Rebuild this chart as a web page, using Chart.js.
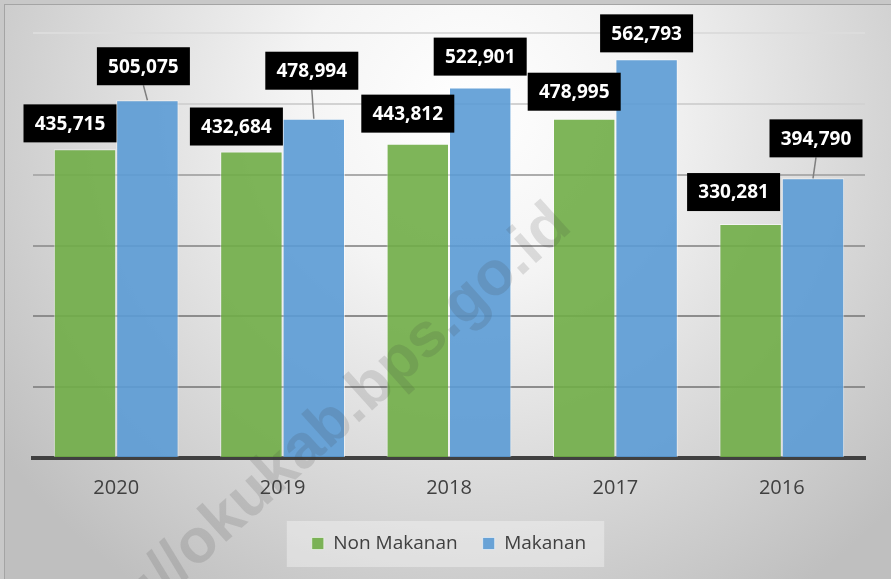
<!DOCTYPE html>
<html>
<head>
<meta charset="utf-8">
<script src="https://cdn.jsdelivr.net/npm/chart.js@4"></script>
<style>
  html, body { margin: 0; padding: 0; background: #c8c8c8; }
  canvas { display: block; }
</style>
</head>
<body>
<canvas id="chart" width="891" height="579"></canvas>
<script>
// data
const categories = ['2020', '2019', '2018', '2017', '2016'];
const nonMakanan = [435715, 432684, 443812, 478995, 330281];
const makanan = [505075, 478994, 522901, 562793, 394790];
const yTicks = [0, 100000, 200000, 300000, 400000, 500000, 600000];

// where each value box sits relative to its bar top: [dx, gap above bar]
const shiftNonMakanan = [[-15, 7], [-15, 6], [-10, 11], [-10, 8], [-17, 13]];
const shiftMakanan = [[-4, 15], [-2, 29], [0, 12], [0, 7], [3, 21]];

const gridColors = ['rgba(0,0,0,0)', '#8c8c8c', '#8c8c8c', '#999999', '#acacac', '#d2d2d2', '#dcdcdc'];

const backgroundPlugin = {
  id: 'paper',
  beforeDraw(chart) {
    const c = chart.ctx;
    c.save();
    c.fillStyle = '#c8c8c8';
    c.fillRect(0, 0, chart.width, chart.height);
    const g = c.createRadialGradient(470, 110, 0, 470, 110, 580);
    g.addColorStop(0, '#ffffff');
    g.addColorStop(0.3, '#f4f4f4');
    g.addColorStop(1, '#bfbfbf');
    c.fillStyle = g;
    c.fillRect(5, 5, chart.width - 5, chart.height - 5);
    c.strokeStyle = 'rgba(0,0,0,0.18)';
    c.lineWidth = 1;
    c.beginPath();
    c.moveTo(4.5, chart.height);
    c.lineTo(4.5, 4.5);
    c.lineTo(chart.width, 4.5);
    c.stroke();

    // pale panel behind the legend
    const boxes = chart.legend.legendHitBoxes;
    if (boxes && boxes.length) {
      const first = boxes[0], last = boxes[boxes.length - 1];
      const x0 = first.left - 25;
      const x1 = last.left + last.width + 18;
      const y0 = first.top - 13;
      const y1 = first.top + first.height + 14;
      c.fillStyle = 'rgba(255,255,255,0.35)';
      c.fillRect(x0, y0, x1 - x0, y1 - y0);
    }
    c.restore();
  }
};

const labelPlugin = {
  id: 'valueBoxes',
  afterDatasetsDraw(chart) {
    const c = chart.ctx;
    c.save();
    // watermark
    c.translate(296, 456);
    c.rotate(-42 * Math.PI / 180);
    c.font = 'bold 62px "Liberation Sans"';
    c.fillStyle = 'rgba(60,60,60,0.15)';
    c.textAlign = 'center';
    c.textBaseline = 'middle';
    c.fillText('https://okukab.bps.go.id', 0, 0);
    c.restore();

    c.save();
    const shifts = [shiftNonMakanan, shiftMakanan];
    chart.data.datasets.forEach((ds, di) => {
      chart.getDatasetMeta(di).data.forEach((bar, i) => {
        const [dx, gap] = shifts[di][i];
        const bw = 93, bh = 38;
        const cx = bar.x + dx;
        const bottom = bar.y - gap;
        if (gap > 13) {
          c.strokeStyle = '#7f7f7f';
          c.lineWidth = 1.5;
          c.beginPath();
          c.moveTo(cx, bottom);
          c.lineTo(bar.x, bar.y);
          c.stroke();
        }
        c.fillStyle = '#000000';
        c.fillRect(cx - bw / 2, bottom - bh, bw, bh);
        c.fillStyle = '#ffffff';
        c.font = 'bold 19px "Open Sans"';
        c.textAlign = 'center';
        c.textBaseline = 'middle';
        c.fillText(ds.data[i].toLocaleString('en-US'), cx, bottom - bh / 2 + 1);
      });
    });
    c.restore();
  }
};

new Chart(document.getElementById('chart'), {
  type: 'bar',
  data: {
    labels: categories,
    datasets: [{
      label: 'Non Makanan',
      data: nonMakanan,
      backgroundColor: 'rgba(112,173,71,0.9)',
      borderColor: 'rgba(255,255,255,0.55)',
      borderWidth: 1
    }, {
      label: 'Makanan',
      data: makanan,
      backgroundColor: 'rgba(91,155,213,0.9)',
      borderColor: 'rgba(255,255,255,0.55)',
      borderWidth: 1
    }]
  },
  options: {
    responsive: false,
    animation: false,
    barPercentage: 1,
    categoryPercentage: 0.75,
    layout: { padding: { left: 33, right: 26, top: 33, bottom: 16 } },
    plugins: {
      tooltip: { enabled: false },
      legend: {
        position: 'bottom',
        labels: {
          boxWidth: 12,
          boxHeight: 12,
          padding: 25,
          color: '#404040',
          font: { family: 'Open Sans', size: 19 }
        }
      }
    },
    scales: {
      x: {
        grid: { display: false, drawTicks: false },
        border: { color: '#404040', width: 4 },
        ticks: { color: '#404040', padding: 18, font: { family: 'Open Sans', size: 20 } },
        afterFit(scale) { scale.height = 51; }
      },
      y: {
        min: 0,
        max: 600000,
        afterBuildTicks(scale) { scale.ticks = yTicks.map(v => ({ value: v })); },
        ticks: { display: false },
        border: { display: false },
        grid: {
          drawTicks: false,
          lineWidth: 2,
          color: ctx => gridColors[ctx.index] || '#cccccc'
        }
      }
    }
  },
  plugins: [backgroundPlugin, labelPlugin]
});
</script>
</body>
</html>
